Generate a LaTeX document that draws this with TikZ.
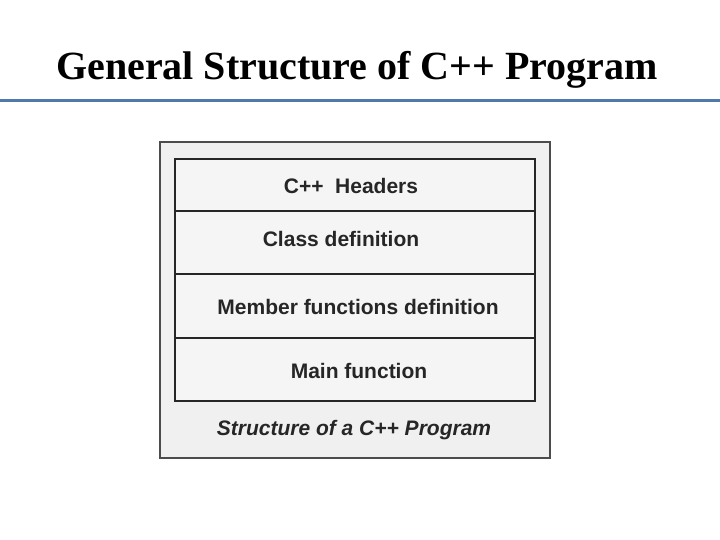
\documentclass[tikz,border=0pt]{standalone}
\usepackage{fontspec}
\setmainfont{Liberation Serif}
\newfontfamily\arialf{Liberation Sans}
\begin{document}
\begin{tikzpicture}[x=1pt,y=-1pt,
  lbl/.style={font=\arialf\bfseries\fontsize{21}{24}\selectfont,text=black!85, inner sep=0pt},
  rowbox/.style={draw=black!85, line width=2pt, fill=black!4}]
\useasboundingbox (0,0) rectangle (720,540);
\node[font=\bfseries\fontsize{40}{44}\selectfont] (title) at (357,70) {General Structure of C++ Program};
\draw[line width=3pt, draw={rgb,255:red,80;green,120;blue,170}] (0,101) -- (720,101);
\draw[draw=black!70, line width=2.5pt, fill=black!6] (160,142) rectangle (550,458);
\draw[rowbox] (175,159) rectangle (535,211);
\draw[rowbox] (175,211) rectangle (535,274);
\draw[rowbox] (175,274) rectangle (535,338);
\draw[rowbox] (175,338) rectangle (535,401);
\node[lbl] (h) at (351,186) {C++\ \ Headers};
\node[lbl] (c) at (341,239) {Class definition};
\node[lbl] (m) at (358,307) {Member functions definition};
\node[lbl] (f) at (359,371) {Main function};
\node[lbl, font=\arialf\bfseries\itshape\fontsize{21}{24}\selectfont] (cap) at (354,430) {Structure of a C++ Program};
\end{tikzpicture}
\end{document}
